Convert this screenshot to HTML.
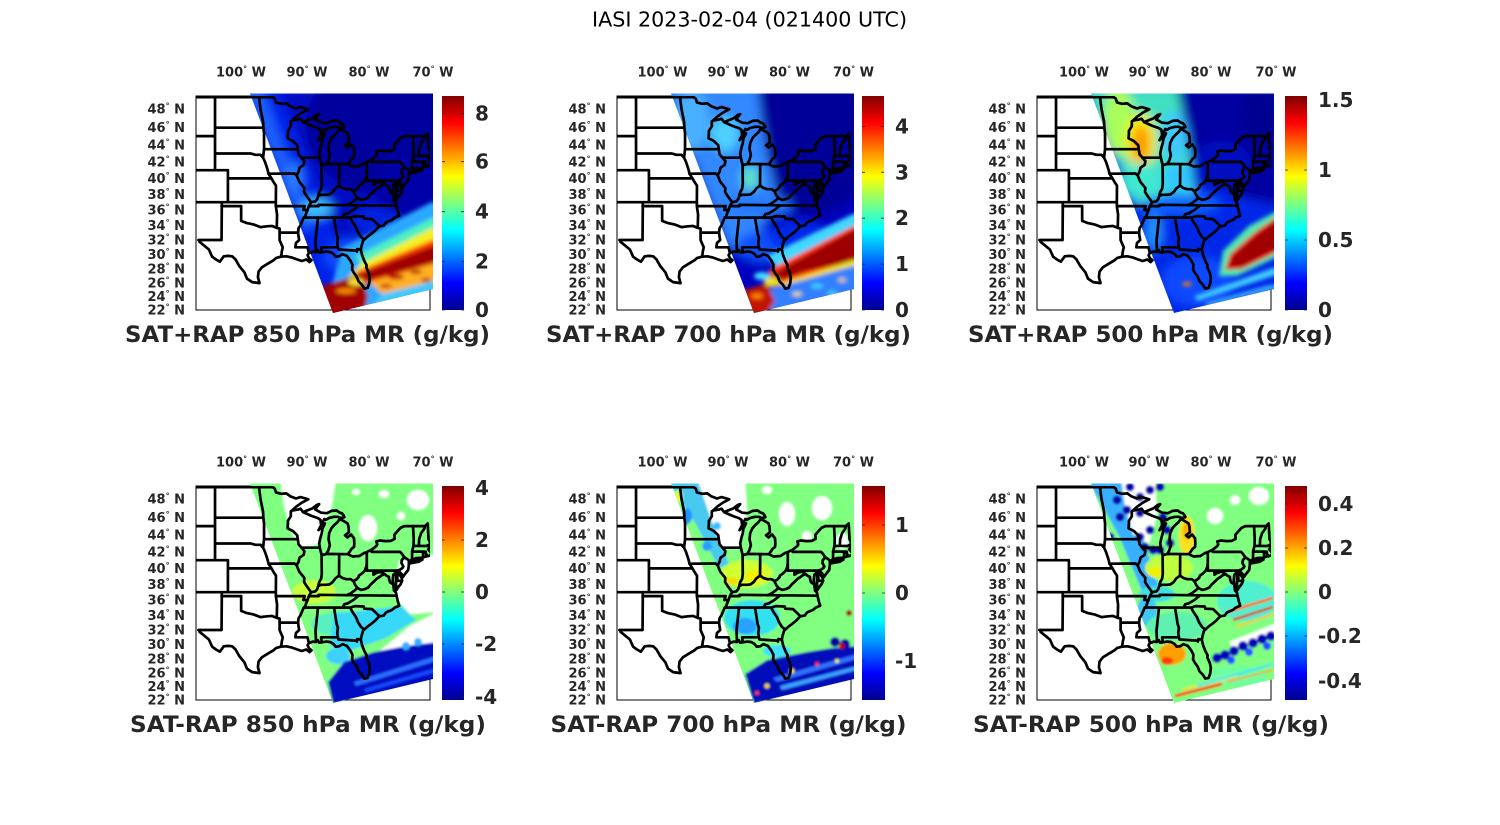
<!DOCTYPE html>
<html><head><meta charset="utf-8"><style>
html,body{margin:0;padding:0;background:#fff;width:1500px;height:825px;overflow:hidden}
svg{display:block}
.t{font-family:"DejaVu Sans","Liberation Sans",sans-serif}
.lab{font-family:"DejaVu Sans","Liberation Sans",sans-serif;font-weight:bold;font-size:13px;fill:#262626}
.cb{font-family:"DejaVu Sans","Liberation Sans",sans-serif;font-weight:bold;font-size:20px;fill:#262626}
.xl{font-family:"DejaVu Sans","Liberation Sans",sans-serif;font-weight:bold;font-size:22.5px;fill:#262626}
</style></head><body>
<svg width="1500" height="825" viewBox="0 0 1500 825" xmlns="http://www.w3.org/2000/svg">
<defs>
<linearGradient id="jet" x1="0" y1="1" x2="0" y2="0">
<stop offset="0" stop-color="#00008f"/><stop offset="0.125" stop-color="#0000ff"/><stop offset="0.375" stop-color="#00ffff"/><stop offset="0.625" stop-color="#ffff00"/><stop offset="0.875" stop-color="#ff0000"/><stop offset="1" stop-color="#800000"/>
</linearGradient>
<clipPath id="sw"><polygon points="54,-2.5 237,-2.5 237,193 137,217"/></clipPath>
<clipPath id="fr"><rect x="0" y="0" width="234" height="214"/></clipPath>
<filter id="bl1" x="-50%" y="-50%" width="200%" height="200%"><feGaussianBlur stdDeviation="1"/></filter>
<filter id="bl2" x="-50%" y="-50%" width="200%" height="200%"><feGaussianBlur stdDeviation="2"/></filter>
<filter id="bl5" x="-50%" y="-50%" width="200%" height="200%"><feGaussianBlur stdDeviation="5"/></filter>
<g id="bd" clip-path="url(#fr)"><path transform="scale(6.45,1)" vector-effect="non-scaling-stroke" fill="none" stroke="#000" stroke-width="2.7" stroke-linejoin="round" stroke-linecap="round" d="
M0,1.2 11.85,1.2 11.85,0
M11.85,1.2 12.2,2.5 12.4,6.4 13.2,7.8 14,7.4 14.6,10.2 15.5,12.5 16.2,11.1 17,12.5 17.4,13.3 16.4,16.7 15.5,20.8 14.9,24.5
M14.9,24.5 14.7,25.4 14.7,30.3 14.25,34.8 14.25,37.4 14.2,42.3 15,44.9 15.7,49.3 15.78,53.2
M14.9,24.5 15.8,23.6 16.2,22.7 16.6,26.1
M16.6,26.1 17.4,24 18.1,22.2 18.7,19 19.1,18.1 18.7,21.3 18.5,23.6 19.4,26.7 20.3,27.2 21,24.9 21.8,24.5 22.3,26.7 22.6,27.2 22.9,29.4 23,31.2 22.4,32.1 22,30.8 21.4,30.8 20.6,32.1 20.1,33.9 19.9,33 19.4,39.2
M16.6,26.1 17.9,29.9 18.9,32.1 19.3,33.9 19.4,39.2
M19.4,39.2 19,44.1 20,37.4 19.6,42.7 19.5,47.1 19.3,51.5 19.1,57.5 19.2,61.7 19.4,67.1 19.47,68.4 19.8,68.8 20.2,67.9
M20.2,67.9 20.5,64.6 20.75,59.2 20.55,53.2 20.65,47.1 21,42.3 21.4,39.2 22,35.7 22.25,33.2 22.7,34.3 23.5,37.4 23.65,41 23.7,46.3 23.1,49.3 23.5,51.5 24.05,48.5 24.5,52.3 24.55,57.5 24.5,60.9 24.1,63 23.9,65.1 23.55,68.2
M20.2,67.9 23.55,68.2
M23.55,68.2 24,69.7 24.3,70.5 25,70.1 25.3,70.1 26,67.2 26.48,66.1 26.9,64.7 27.24,63.7 27.95,60.1 28.1,58.3 27.95,55.4 28.5,54.5 29.4,55.1 30.2,54.9 30.8,52.8 30.75,48.9 31.2,45.4 31.7,41.9 32.3,40.1 35.5,40.1 35.92,37.4 36.02,48.9 36.05,53.2 36.3,56.6
M2.95,0 2.95,74.2
M0,40.1 2.95,40.1
M0,74.2 4.95,74.2 4.95,106.2
M4.95,82.4 11.7,82.4
M0,106.2 12.38,106.2
M4,106.2 4,110.1 3.96,144
M3.96,110.1 7,110.1 7,124.9 7.8,126.9 8.9,128.4 10,131.1 11,130.3 11.8,129.95 12.52,131.9
M0.38,144 3.96,144
M0.55,145.8 2,153.5 2.5,160.7 3.1,163.5 3.7,165.7 4.3,160.3 5,159.9 5.6,160.3 6.1,163.2 6.7,170 7.5,176.3 7.9,182.6 8.7,186.1 9.85,187.1 9.6,181.2 9.7,175.6 10.2,171.4 11.1,167.8 12,164.3 12.4,162.1 13.15,160.7 14,160.3 14.8,161.4 15.7,163.5 16.4,165 17.1,163.5 17.6,166.1 17.9,164.3 17.5,162.1 17.3,159.2 17.5,157.1 18.1,155.6 18.6,156 18.9,154.2 19.1,156.7 19.5,156.3 20.2,155.6 20.8,156 21.3,157.8 21.65,160.7 22.2,160.3 22.7,158.1 23.4,159.9 23.9,164.3 24.25,168.6 24.2,173.5 24.5,177 24.9,180.5 25.2,185.4 25.7,188.6 26.1,192.6 26.6,191.9 26.85,187.5 26.95,182 26.8,177 26.4,171.4 26.45,169.3 26.1,165 25.75,159.2 25.55,153.5 25.7,149.1 25.9,144.7 26.5,141.1 27.1,138.2 27.8,134.5 28.4,130.3 29.1,129.6 29.5,126.2 30.4,123.9 30.8,121.6 31.5,119.7 31.3,115.5 31.1,110.1 31,106.6 30.7,104.6 30.6,99.2 30.5,94.4 30.6,88.8 31,86.4 31.05,91.2 31,98.4 31.1,103.9 31.3,101.5 31.7,98.4 31.95,94.8 31.9,92 31.5,88 31.5,85.6 32,88.8 32.1,90.8 32.4,88 32.9,84 33,78.7 33,76.7 33.35,74.2 34.1,72.1 35.1,71.7 35.6,70.5 36,70.1 36.3,69.3 36.5,68 36.4,66.3 36,63.4 36.2,60.9 36.2,58.8 36.3,56.6
M33,77.5 34.5,75.8 35.1,73.6 34.3,74.2 33.3,75 33,75.8
M2.95,31.7 10.44,31.7
M10.44,31.7 10.4,25.8 10.2,19.4 10,13 9.77,1.2
M10.44,31.7 10.55,37.4 10.55,53.2 10.4,61.7
M2.95,57.5 8.5,57.5 9.2,58.8 10,58.8 10.4,61.7 10.7,65.9 11,71.7 11.15,75 11.23,77.7 11.7,82.4
M10.55,53.2 15.78,53.2
M11.23,77.7 15.27,77.5 15.6,79.3
M11.7,82.4 12.1,86.8 12.4,89.6 12.38,106.2 12.38,110.1 12.57,118.6 12.52,131.9 12.96,132.6 12.96,136.6 15.83,136.6
M12.96,136.6 12.96,144.1 13.2,147.7 13.45,151.3 13.3,155.6 13.25,158.5 13.15,160.7
M15.83,136.6 15.9,140.4 16,144 15.5,147 15.4,151.3 17.27,151.3 17.4,154.2 17.5,157.1
M15.83,136.6 15.9,132.2 16.2,129.2 16.45,125.4 16.7,121.6 16.9,120.5 17.1,117 17.3,114 17.5,110.1 17.7,107.8 17.85,106.2 17.5,103.1 17.15,100 16.75,96 16.8,92 16.4,88.8 16,85.6 15.6,79.3 15.9,75.8 16.05,71.7 16.7,68.8 16.8,65.1 16.36,61.7 15.9,58.3 15.78,53.2
M16.36,61.7 19.2,61.7
M12.38,110.1 16.85,110.1 16.63,114 17.3,114
M16.7,121.6 23.9,121.6
M18.8,121.6 18.9,122.4 18.53,144.7 18.6,155.6
M21.4,121.6 21.8,137.8 22,141.8 21.9,146.9 22,151.3
M19.4,151.3 22,151.3 22.1,153.5 24.8,154.6 24.95,155.6 25,153.1 25.55,153.5
M19.4,151.3 19.5,156.3
M23.9,121.6 24.2,125.4 24.8,131.1 25.1,136 25.6,141.1 26.1,143.6
M23.9,121.6 24.6,120.1 26,120.5 26.1,122.7 27.3,123.1 28.45,130.3
M22.7,121.6 23,118.2 23.5,117.4 24.4,114 25.3,109.3
M17.5,110.1 19,110.1 19,108.8 25.3,109.3 31.1,109.7
M23.3,109.3 24,107.3 24.7,103.9 25.03,102 24.7,99.2 24.4,95.2 24,93.2 23.3,93.2 22.7,92 22.18,89.6 21.6,92.4 21.2,96 20.7,98.4 20.2,98.8 19.4,98.8 18.95,100 18.8,103.1 18.5,105.4 17.85,106.2
M18.95,100 19.1,96 19.4,92.8 19.5,88 19.47,68.4
M22.18,89.6 22.2,68.4
M26.48,77.2 26.4,80.8 26.15,84.8 25.7,87.6 25.25,89.6 25.2,91.2 24.85,93.6 24.4,95.2
M26.48,66.1 26.48,84.6 31.2,84.6 31.22,94.8 31.95,94.8
M27.52,84.6 27.52,88.8 28,86.8 28.6,85.6 29.25,88 28.8,89.2 28.4,91.2 28,92.8 27.5,96 27.1,98.4 26.7,101.5 26.2,103.1 25.6,103.9 25.03,102
M29.25,88 29.5,89.6 29.9,90.8 29.95,93.6 30.1,96.4 30.7,98.8
M31.2,84.6 31.6,83.8 32,82 32.15,80.4 31.85,77.1 31.9,74.2 32.3,71.3
M27.24,63.7 27.24,65.9 31.65,65.9 31.9,67.6 32.3,71.3 33,74.2 33,76.7
M33.35,74.2 33.5,72.5 33.5,65.5 33.73,59.6 33.75,52.3 33.65,40.1
M33.5,65.6 35.2,65.6 35.2,71.4
M35.2,65.6 35.62,65.7 35.62,67.5 35.88,70.1
M33.73,59.8 35.7,60 36.2,58.6
M34.54,59.8 34.6,53.2 34.9,47.1 35.4,42.7 35.5,40.1
"/></g>
</defs>
<rect width="1500" height="825" fill="#fff"/>
<text class="t" x="749.5" y="26.7" text-anchor="middle" font-size="20" fill="#000" textLength="315" lengthAdjust="spacingAndGlyphs">IASI 2023-02-04 (021400 UTC)</text>

<!-- ===== PANEL 1 ===== -->
<g transform="translate(196,96)">
<rect x="0" y="0" width="234" height="214" fill="#fff" stroke="#000" stroke-width="1"/>
<g clip-path="url(#sw)">
<g filter="url(#bl5)">
<rect x="40" y="-10" width="210" height="240" fill="#0008c4"/>
<ellipse cx="190" cy="30" rx="80" ry="70" fill="#00009c"/>
<ellipse cx="215" cy="95" rx="35" ry="35" fill="#0000a8"/>
<polygon points="48,-8 82,-8 140,140 160,216 132,216" fill="#0024e8"/>
<polygon points="48,-8 66,-8 118,130 108,135" fill="#1c60ff"/>
<ellipse cx="120" cy="112" rx="16" ry="10" fill="#3cc0ff"/>
<ellipse cx="98" cy="82" rx="9" ry="16" fill="#2a7cff"/>
<ellipse cx="158" cy="160" rx="30" ry="18" fill="#0848ff"/>
<ellipse cx="180" cy="125" rx="25" ry="14" fill="#0020e0"/>
</g>
<g filter="url(#bl2)">
<polygon points="146,152 236,106 242,106 242,220 128,220" fill="#2aa8ff"/>
<polygon points="160,160 236,122 242,122 242,145 168,176" fill="#50f0c0"/>
<polygon points="165,168 236,132 242,132 242,152 168,180 150,184" fill="#f4f020"/>
<polygon points="160,176 236,144 242,144 242,170 172,188 152,192" fill="#ff4400"/>
<polygon points="158,180 236,150 242,150 242,166 174,184 156,190" fill="#a00000"/>
<polygon points="174,186 242,166 242,186 186,198" fill="#ffb020"/>
<ellipse cx="200" cy="181" rx="8" ry="2.5" fill="#b00000"/>
<ellipse cx="220" cy="176" rx="6" ry="2" fill="#b00000"/>
<ellipse cx="190" cy="190" rx="6" ry="2" fill="#c02000"/>
<ellipse cx="230" cy="184" rx="5" ry="2" fill="#b00000"/>
<polygon points="186,198 242,184 242,200 170,216" fill="#40c8ff"/>
<polygon points="126,190 165,178 172,200 168,220 128,220" fill="#a00000"/>
<ellipse cx="150" cy="195" rx="10" ry="2.5" fill="#ff9000"/>
<ellipse cx="160" cy="186" rx="8" ry="4" fill="#f0e030"/>
</g>
</g>
<use href="#bd"/>
<g class="lab" text-anchor="end">
<text x="-11" y="17.7">48<tspan dy="-5" font-size="8">°</tspan><tspan dy="5"> N</tspan></text>
<text x="-11" y="35.9">46<tspan dy="-5" font-size="8">°</tspan><tspan dy="5"> N</tspan></text>
<text x="-11" y="53.6">44<tspan dy="-5" font-size="8">°</tspan><tspan dy="5"> N</tspan></text>
<text x="-11" y="70.6">42<tspan dy="-5" font-size="8">°</tspan><tspan dy="5"> N</tspan></text>
<text x="-11" y="87.1">40<tspan dy="-5" font-size="8">°</tspan><tspan dy="5"> N</tspan></text>
<text x="-11" y="103.1">38<tspan dy="-5" font-size="8">°</tspan><tspan dy="5"> N</tspan></text>
<text x="-11" y="118.7">36<tspan dy="-5" font-size="8">°</tspan><tspan dy="5"> N</tspan></text>
<text x="-11" y="133.9">34<tspan dy="-5" font-size="8">°</tspan><tspan dy="5"> N</tspan></text>
<text x="-11" y="148.7">32<tspan dy="-5" font-size="8">°</tspan><tspan dy="5"> N</tspan></text>
<text x="-11" y="163.2">30<tspan dy="-5" font-size="8">°</tspan><tspan dy="5"> N</tspan></text>
<text x="-11" y="177.5">28<tspan dy="-5" font-size="8">°</tspan><tspan dy="5"> N</tspan></text>
<text x="-11" y="191.5">26<tspan dy="-5" font-size="8">°</tspan><tspan dy="5"> N</tspan></text>
<text x="-11" y="205.2">24<tspan dy="-5" font-size="8">°</tspan><tspan dy="5"> N</tspan></text>
<text x="-11" y="218.7">22<tspan dy="-5" font-size="8">°</tspan><tspan dy="5"> N</tspan></text>
</g>
<g class="lab" text-anchor="middle">
<text x="45" y="-19.3">100<tspan dy="-5" font-size="8">°</tspan><tspan dy="5"> W</tspan></text>
<text x="111" y="-19.3">90<tspan dy="-5" font-size="8">°</tspan><tspan dy="5"> W</tspan></text>
<text x="173" y="-19.3">80<tspan dy="-5" font-size="8">°</tspan><tspan dy="5"> W</tspan></text>
<text x="237" y="-19.3">70<tspan dy="-5" font-size="8">°</tspan><tspan dy="5"> W</tspan></text>
</g>
<rect x="246" y="0" width="22" height="214" fill="url(#jet)"/>
<g stroke="#262626" stroke-width="0.8"><path d="M246,214h3M265,214h3M246,165.7h3M265,165.7h3M246,115.7h3M265,115.7h3M246,65.7h3M265,65.7h3M246,17.3h3M265,17.3h3"/></g>
<g class="cb"><text x="279" y="221">0</text><text x="279" y="172.7">2</text><text x="279" y="122.7">4</text><text x="279" y="72.7">6</text><text x="279" y="24.3">8</text></g>
<text class="xl" x="111.5" y="246" text-anchor="middle" textLength="365" lengthAdjust="spacingAndGlyphs">SAT+RAP 850 hPa MR (g/kg)</text>
</g>

<!-- ===== PANEL 2 ===== -->
<g transform="translate(617,96)">
<rect x="0" y="0" width="234" height="214" fill="#fff" stroke="#000" stroke-width="1"/>
<g clip-path="url(#sw)">
<g filter="url(#bl5)">
<rect x="40" y="-10" width="210" height="240" fill="#0000c0"/>
<ellipse cx="192" cy="45" rx="70" ry="75" fill="#000098"/>
<polygon points="48,-8 140,-8 150,60 160,100 130,160 112,150" fill="#3088ff"/>
<ellipse cx="75" cy="25" rx="18" ry="30" fill="#48b0ff"/>
<ellipse cx="108" cy="38" rx="14" ry="18" fill="#50d0ff"/>
<ellipse cx="133" cy="82" rx="8" ry="12" fill="#60e8c0"/>
<ellipse cx="140" cy="110" rx="35" ry="10" fill="#2878ff"/>
<ellipse cx="145" cy="150" rx="25" ry="15" fill="#1050ff"/>
<ellipse cx="182" cy="140" rx="30" ry="15" fill="#0028e8"/>
</g>
<g filter="url(#bl2)">
<polygon points="150,160 236,118 242,118 242,140 160,172" fill="#40d8ff"/>
<polygon points="152,174 236,130 242,130 242,168 185,180 156,190" fill="#ff3000"/>
<polygon points="156,178 236,134 242,134 242,164 185,176 160,186" fill="#9c0000"/>
<polygon points="160,188 236,164 242,164 242,172 168,192" fill="#f0e020"/>
<polygon points="150,194 236,170 242,170 242,218 140,218" fill="#3080ff"/>
<ellipse cx="180" cy="198" rx="5" ry="2" fill="#f0e020"/>
<ellipse cx="200" cy="190" rx="6" ry="2" fill="#40e0ff"/>
<ellipse cx="215" cy="197" rx="5" ry="2" fill="#40e0ff"/>
<ellipse cx="225" cy="184" rx="4" ry="2" fill="#f0d000"/>
<polygon points="126,194 150,188 158,205 150,218 128,218" fill="#c01800"/>
<ellipse cx="140" cy="200" rx="6" ry="3" fill="#ff8000"/>
<ellipse cx="155" cy="186" rx="8" ry="5" fill="#f0e020"/>
<ellipse cx="145" cy="180" rx="8" ry="4" fill="#40e0ff"/>
</g>
</g>
<use href="#bd"/>
<g class="lab" text-anchor="end">
<text x="-11" y="17.7">48<tspan dy="-5" font-size="8">°</tspan><tspan dy="5"> N</tspan></text>
<text x="-11" y="35.9">46<tspan dy="-5" font-size="8">°</tspan><tspan dy="5"> N</tspan></text>
<text x="-11" y="53.6">44<tspan dy="-5" font-size="8">°</tspan><tspan dy="5"> N</tspan></text>
<text x="-11" y="70.6">42<tspan dy="-5" font-size="8">°</tspan><tspan dy="5"> N</tspan></text>
<text x="-11" y="87.1">40<tspan dy="-5" font-size="8">°</tspan><tspan dy="5"> N</tspan></text>
<text x="-11" y="103.1">38<tspan dy="-5" font-size="8">°</tspan><tspan dy="5"> N</tspan></text>
<text x="-11" y="118.7">36<tspan dy="-5" font-size="8">°</tspan><tspan dy="5"> N</tspan></text>
<text x="-11" y="133.9">34<tspan dy="-5" font-size="8">°</tspan><tspan dy="5"> N</tspan></text>
<text x="-11" y="148.7">32<tspan dy="-5" font-size="8">°</tspan><tspan dy="5"> N</tspan></text>
<text x="-11" y="163.2">30<tspan dy="-5" font-size="8">°</tspan><tspan dy="5"> N</tspan></text>
<text x="-11" y="177.5">28<tspan dy="-5" font-size="8">°</tspan><tspan dy="5"> N</tspan></text>
<text x="-11" y="191.5">26<tspan dy="-5" font-size="8">°</tspan><tspan dy="5"> N</tspan></text>
<text x="-11" y="205.2">24<tspan dy="-5" font-size="8">°</tspan><tspan dy="5"> N</tspan></text>
<text x="-11" y="218.7">22<tspan dy="-5" font-size="8">°</tspan><tspan dy="5"> N</tspan></text>
</g>
<g class="lab" text-anchor="middle">
<text x="45.5" y="-19.3">100<tspan dy="-5" font-size="8">°</tspan><tspan dy="5"> W</tspan></text>
<text x="111" y="-19.3">90<tspan dy="-5" font-size="8">°</tspan><tspan dy="5"> W</tspan></text>
<text x="172.5" y="-19.3">80<tspan dy="-5" font-size="8">°</tspan><tspan dy="5"> W</tspan></text>
<text x="236.5" y="-19.3">70<tspan dy="-5" font-size="8">°</tspan><tspan dy="5"> W</tspan></text>
</g>
<rect x="245" y="0" width="22" height="214" fill="url(#jet)"/>
<g stroke="#262626" stroke-width="0.8"><path d="M245,214h3M264,214h3M245,168.1h3M264,168.1h3M245,122.2h3M264,122.2h3M245,76.3h3M264,76.3h3M245,30.4h3M264,30.4h3"/></g>
<g class="cb"><text x="278" y="221">0</text><text x="278" y="175.1">1</text><text x="278" y="129.2">2</text><text x="278" y="83.3">3</text><text x="278" y="37.4">4</text></g>
<text class="xl" x="111.5" y="246" text-anchor="middle" textLength="365" lengthAdjust="spacingAndGlyphs">SAT+RAP 700 hPa MR (g/kg)</text>
</g>

<!-- ===== PANEL 3 ===== -->
<g transform="translate(1037,96)">
<rect x="0" y="0" width="234" height="214" fill="#fff" stroke="#000" stroke-width="1"/>
<g clip-path="url(#sw)">
<g filter="url(#bl5)">
<rect x="40" y="-10" width="210" height="240" fill="#0028e8"/>
<polygon points="140,-8 242,-8 242,110 200,100 160,80 150,40" fill="#0000a0"/>
<ellipse cx="225" cy="20" rx="20" ry="30" fill="#000090"/>
<polygon points="48,-8 140,-8 150,40 158,100 125,112 100,108" fill="#40e0c0"/>
<ellipse cx="82" cy="25" rx="16" ry="35" fill="#a8ff58"/>
<ellipse cx="104" cy="45" rx="16" ry="28" fill="#f0f010"/>
<ellipse cx="104" cy="48" rx="9" ry="19" fill="#ff9800"/>
<ellipse cx="137" cy="40" rx="13" ry="25" fill="#40c8ff"/>
<ellipse cx="105" cy="85" rx="22" ry="18" fill="#40e8d0"/>
<ellipse cx="140" cy="82" rx="15" ry="15" fill="#30c8ff"/>
<ellipse cx="145" cy="108" rx="38" ry="10" fill="#1060ff"/>
<ellipse cx="117" cy="135" rx="8" ry="20" fill="#2090ff"/>
<ellipse cx="160" cy="185" rx="35" ry="25" fill="#0848ff"/>
<ellipse cx="185" cy="70" rx="30" ry="25" fill="#0010c0"/>
</g>
<g filter="url(#bl2)">
<polygon points="238,116 242,116 242,160 200,180 182,180 186,155 212,130" fill="#50e8b0"/>
<polygon points="238,122 242,122 242,155 205,173 188,174 193,158 218,136" fill="#e00000"/>
<polygon points="238,126 242,126 242,151 205,170 192,170 197,160 220,139" fill="#a00000"/>
<polygon points="236,172 242,172 242,178 160,205 158,200" fill="#40d0ff"/>
<polygon points="230,190 242,188 242,192 170,210 168,207" fill="#40c0ff"/>
<ellipse cx="150" cy="188" rx="5" ry="2" fill="#ff8000"/>
</g>
</g>
<use href="#bd"/>
<g class="lab" text-anchor="end">
<text x="-11" y="17.7">48<tspan dy="-5" font-size="8">°</tspan><tspan dy="5"> N</tspan></text>
<text x="-11" y="35.9">46<tspan dy="-5" font-size="8">°</tspan><tspan dy="5"> N</tspan></text>
<text x="-11" y="53.6">44<tspan dy="-5" font-size="8">°</tspan><tspan dy="5"> N</tspan></text>
<text x="-11" y="70.6">42<tspan dy="-5" font-size="8">°</tspan><tspan dy="5"> N</tspan></text>
<text x="-11" y="87.1">40<tspan dy="-5" font-size="8">°</tspan><tspan dy="5"> N</tspan></text>
<text x="-11" y="103.1">38<tspan dy="-5" font-size="8">°</tspan><tspan dy="5"> N</tspan></text>
<text x="-11" y="118.7">36<tspan dy="-5" font-size="8">°</tspan><tspan dy="5"> N</tspan></text>
<text x="-11" y="133.9">34<tspan dy="-5" font-size="8">°</tspan><tspan dy="5"> N</tspan></text>
<text x="-11" y="148.7">32<tspan dy="-5" font-size="8">°</tspan><tspan dy="5"> N</tspan></text>
<text x="-11" y="163.2">30<tspan dy="-5" font-size="8">°</tspan><tspan dy="5"> N</tspan></text>
<text x="-11" y="177.5">28<tspan dy="-5" font-size="8">°</tspan><tspan dy="5"> N</tspan></text>
<text x="-11" y="191.5">26<tspan dy="-5" font-size="8">°</tspan><tspan dy="5"> N</tspan></text>
<text x="-11" y="205.2">24<tspan dy="-5" font-size="8">°</tspan><tspan dy="5"> N</tspan></text>
<text x="-11" y="218.7">22<tspan dy="-5" font-size="8">°</tspan><tspan dy="5"> N</tspan></text>
</g>
<g class="lab" text-anchor="middle">
<text x="47" y="-19.3">100<tspan dy="-5" font-size="8">°</tspan><tspan dy="5"> W</tspan></text>
<text x="112" y="-19.3">90<tspan dy="-5" font-size="8">°</tspan><tspan dy="5"> W</tspan></text>
<text x="174" y="-19.3">80<tspan dy="-5" font-size="8">°</tspan><tspan dy="5"> W</tspan></text>
<text x="239" y="-19.3">70<tspan dy="-5" font-size="8">°</tspan><tspan dy="5"> W</tspan></text>
</g>
<rect x="248" y="0" width="22" height="214" fill="url(#jet)"/>
<g stroke="#262626" stroke-width="0.8"><path d="M248,214h3M267,214h3M248,144h3M267,144h3M248,74h3M267,74h3M248,4h3M267,4h3"/></g>
<g class="cb"><text x="281" y="221">0</text><text x="281" y="151">0.5</text><text x="281" y="81">1</text><text x="281" y="11">1.5</text></g>
<text class="xl" x="113.5" y="246" text-anchor="middle" textLength="365" lengthAdjust="spacingAndGlyphs">SAT+RAP 500 hPa MR (g/kg)</text>
</g>

<!-- ===== PANEL 4 ===== -->
<g transform="translate(196,486)">
<rect x="0" y="0" width="234" height="214" fill="#fff" stroke="#000" stroke-width="1"/>
<g clip-path="url(#sw)">
<g filter="url(#bl1)">
<rect x="40" y="-10" width="210" height="240" fill="#80ff80"/>
<polygon points="84,-8 140,-8 136,20 128,40 122,58 105,62 95,45 88,20" fill="#fff"/>
<ellipse cx="172" cy="42" rx="9" ry="13" fill="#fff"/>
<ellipse cx="222" cy="14" rx="11" ry="10" fill="#fff"/>
<ellipse cx="188" cy="8" rx="5" ry="4" fill="#fff"/>
<ellipse cx="160" cy="6" rx="4" ry="3" fill="#fff"/>
<ellipse cx="205" cy="30" rx="4" ry="4" fill="#fff"/>
<polygon points="203,75 242,68 242,126 214,128 198,110" fill="#fff"/>
<polygon points="242,126 242,158 205,162 180,168 214,140" fill="#fff"/>
<ellipse cx="118" cy="106" rx="22" ry="12" fill="#c8ff40"/>
<ellipse cx="150" cy="138" rx="35" ry="13" fill="#58f0c0"/>
<polygon points="138,128 205,120 220,134 190,152 150,166 134,160" fill="#38d8f8"/>
<ellipse cx="142" cy="170" rx="12" ry="8" fill="#40d0ff"/>
<polygon points="242,156 242,196 137,218 132,196 148,176 178,166 210,160" fill="#0010c0"/>
<polygon points="240,170 240,175 160,200 158,196" fill="#2a6cff"/>
<polygon points="240,182 240,186 170,206 168,203" fill="#1848ff"/>
<circle cx="210" cy="160" r="4" fill="#30b0ff"/>
<circle cx="222" cy="156" r="4" fill="#30b0ff"/>
</g>
</g>
<use href="#bd"/>
<g class="lab" text-anchor="end">
<text x="-11" y="17.7">48<tspan dy="-5" font-size="8">°</tspan><tspan dy="5"> N</tspan></text>
<text x="-11" y="35.9">46<tspan dy="-5" font-size="8">°</tspan><tspan dy="5"> N</tspan></text>
<text x="-11" y="53.6">44<tspan dy="-5" font-size="8">°</tspan><tspan dy="5"> N</tspan></text>
<text x="-11" y="70.6">42<tspan dy="-5" font-size="8">°</tspan><tspan dy="5"> N</tspan></text>
<text x="-11" y="87.1">40<tspan dy="-5" font-size="8">°</tspan><tspan dy="5"> N</tspan></text>
<text x="-11" y="103.1">38<tspan dy="-5" font-size="8">°</tspan><tspan dy="5"> N</tspan></text>
<text x="-11" y="118.7">36<tspan dy="-5" font-size="8">°</tspan><tspan dy="5"> N</tspan></text>
<text x="-11" y="133.9">34<tspan dy="-5" font-size="8">°</tspan><tspan dy="5"> N</tspan></text>
<text x="-11" y="148.7">32<tspan dy="-5" font-size="8">°</tspan><tspan dy="5"> N</tspan></text>
<text x="-11" y="163.2">30<tspan dy="-5" font-size="8">°</tspan><tspan dy="5"> N</tspan></text>
<text x="-11" y="177.5">28<tspan dy="-5" font-size="8">°</tspan><tspan dy="5"> N</tspan></text>
<text x="-11" y="191.5">26<tspan dy="-5" font-size="8">°</tspan><tspan dy="5"> N</tspan></text>
<text x="-11" y="205.2">24<tspan dy="-5" font-size="8">°</tspan><tspan dy="5"> N</tspan></text>
<text x="-11" y="218.7">22<tspan dy="-5" font-size="8">°</tspan><tspan dy="5"> N</tspan></text>
</g>
<g class="lab" text-anchor="middle">
<text x="45" y="-19.3">100<tspan dy="-5" font-size="8">°</tspan><tspan dy="5"> W</tspan></text>
<text x="111" y="-19.3">90<tspan dy="-5" font-size="8">°</tspan><tspan dy="5"> W</tspan></text>
<text x="173" y="-19.3">80<tspan dy="-5" font-size="8">°</tspan><tspan dy="5"> W</tspan></text>
<text x="237" y="-19.3">70<tspan dy="-5" font-size="8">°</tspan><tspan dy="5"> W</tspan></text>
</g>
<rect x="246" y="0" width="22" height="214" fill="url(#jet)"/>
<g stroke="#262626" stroke-width="0.8"><path d="M246,2h3M265,2h3M246,54h3M265,54h3M246,106h3M265,106h3M246,158h3M265,158h3M246,211h3M265,211h3"/></g>
<g class="cb"><text x="279" y="9">4</text><text x="279" y="61">2</text><text x="279" y="113">0</text><text x="279" y="165">-2</text><text x="279" y="218">-4</text></g>
<text class="xl" x="112" y="246" text-anchor="middle" textLength="356" lengthAdjust="spacingAndGlyphs">SAT-RAP 850 hPa MR (g/kg)</text>
</g>

<!-- ===== PANEL 5 ===== -->
<g transform="translate(617,486)">
<rect x="0" y="0" width="234" height="214" fill="#fff" stroke="#000" stroke-width="1"/>
<g clip-path="url(#sw)">
<g filter="url(#bl1)">
<rect x="40" y="-10" width="210" height="240" fill="#80ff80"/>
<polygon points="78,-8 128,-8 130,25 122,62 100,62 88,30" fill="#fff"/>
<ellipse cx="170" cy="28" rx="8" ry="12" fill="#fff"/>
<ellipse cx="205" cy="22" rx="10" ry="12" fill="#fff"/>
<ellipse cx="225" cy="55" rx="6" ry="8" fill="#fff"/>
<ellipse cx="150" cy="4" rx="5" ry="4" fill="#fff"/>
<ellipse cx="190" cy="50" rx="5" ry="5" fill="#fff"/>
<polygon points="50,-8 80,-8 98,45 112,78 102,82 80,40" fill="#48c8f0"/>
<ellipse cx="62" cy="10" rx="4" ry="6" fill="#e0ff30"/>
<ellipse cx="70" cy="30" rx="5" ry="8" fill="#2090ff"/>
<ellipse cx="90" cy="60" rx="5" ry="5" fill="#20a0ff"/>
<ellipse cx="100" cy="40" rx="4" ry="4" fill="#30c0ff"/>
<ellipse cx="130" cy="88" rx="26" ry="14" fill="#d0ff30"/>
<ellipse cx="138" cy="90" rx="10" ry="6" fill="#f4f000"/>
<ellipse cx="115" cy="95" rx="6" ry="4" fill="#f0e000"/>
<ellipse cx="135" cy="132" rx="28" ry="18" fill="#30e0f0"/>
<ellipse cx="128" cy="140" rx="12" ry="8" fill="#2aa0ff"/>
<ellipse cx="160" cy="165" rx="14" ry="6" fill="#40e0ff"/>
<polygon points="242,160 242,196 137,218 128,188 150,174 190,166 215,162" fill="#0010b8"/>
<polygon points="240,168 240,173 160,196 156,192" fill="#3070ff"/>
<polygon points="240,180 240,184 165,204 163,200" fill="#3aa0ff"/>
<circle cx="175" cy="185" r="2.5" fill="#f0e000"/>
<circle cx="200" cy="178" r="2" fill="#ff3000"/>
<circle cx="150" cy="200" r="2.5" fill="#f0d000"/>
<circle cx="140" cy="207" r="2" fill="#ff4000"/>
<circle cx="220" cy="175" r="2" fill="#f0f000"/>
<circle cx="218" cy="156" r="5" fill="#0000a0"/>
<circle cx="228" cy="158" r="5" fill="#0000a0"/>
<circle cx="225" cy="160" r="3" fill="#c00000"/>
<circle cx="232" cy="127" r="3" fill="#a00000"/>
</g>
</g>
<use href="#bd"/>
<g class="lab" text-anchor="end">
<text x="-11" y="17.7">48<tspan dy="-5" font-size="8">°</tspan><tspan dy="5"> N</tspan></text>
<text x="-11" y="35.9">46<tspan dy="-5" font-size="8">°</tspan><tspan dy="5"> N</tspan></text>
<text x="-11" y="53.6">44<tspan dy="-5" font-size="8">°</tspan><tspan dy="5"> N</tspan></text>
<text x="-11" y="70.6">42<tspan dy="-5" font-size="8">°</tspan><tspan dy="5"> N</tspan></text>
<text x="-11" y="87.1">40<tspan dy="-5" font-size="8">°</tspan><tspan dy="5"> N</tspan></text>
<text x="-11" y="103.1">38<tspan dy="-5" font-size="8">°</tspan><tspan dy="5"> N</tspan></text>
<text x="-11" y="118.7">36<tspan dy="-5" font-size="8">°</tspan><tspan dy="5"> N</tspan></text>
<text x="-11" y="133.9">34<tspan dy="-5" font-size="8">°</tspan><tspan dy="5"> N</tspan></text>
<text x="-11" y="148.7">32<tspan dy="-5" font-size="8">°</tspan><tspan dy="5"> N</tspan></text>
<text x="-11" y="163.2">30<tspan dy="-5" font-size="8">°</tspan><tspan dy="5"> N</tspan></text>
<text x="-11" y="177.5">28<tspan dy="-5" font-size="8">°</tspan><tspan dy="5"> N</tspan></text>
<text x="-11" y="191.5">26<tspan dy="-5" font-size="8">°</tspan><tspan dy="5"> N</tspan></text>
<text x="-11" y="205.2">24<tspan dy="-5" font-size="8">°</tspan><tspan dy="5"> N</tspan></text>
<text x="-11" y="218.7">22<tspan dy="-5" font-size="8">°</tspan><tspan dy="5"> N</tspan></text>
</g>
<g class="lab" text-anchor="middle">
<text x="45.5" y="-19.3">100<tspan dy="-5" font-size="8">°</tspan><tspan dy="5"> W</tspan></text>
<text x="111" y="-19.3">90<tspan dy="-5" font-size="8">°</tspan><tspan dy="5"> W</tspan></text>
<text x="172.5" y="-19.3">80<tspan dy="-5" font-size="8">°</tspan><tspan dy="5"> W</tspan></text>
<text x="236.5" y="-19.3">70<tspan dy="-5" font-size="8">°</tspan><tspan dy="5"> W</tspan></text>
</g>
<rect x="245" y="0" width="23" height="214" fill="url(#jet)"/>
<g stroke="#262626" stroke-width="0.8"><path d="M245,39h3M265,39h3M245,107h3M265,107h3M245,175h3M265,175h3"/></g>
<g class="cb"><text x="278" y="46">1</text><text x="278" y="114">0</text><text x="278" y="182">-1</text></g>
<text class="xl" x="111.5" y="246" text-anchor="middle" textLength="356" lengthAdjust="spacingAndGlyphs">SAT-RAP 700 hPa MR (g/kg)</text>
</g>

<!-- ===== PANEL 6 ===== -->
<g transform="translate(1037,486)">
<rect x="0" y="0" width="234" height="214" fill="#fff" stroke="#000" stroke-width="1"/>
<g clip-path="url(#sw)">
<g filter="url(#bl1)">
<rect x="40" y="-10" width="210" height="240" fill="#80ff80"/>
<polygon points="50,-8 84,-8 105,50 125,110 112,122 82,50" fill="#38b0ff"/>
<polygon points="84,-8 118,-8 120,30 112,58 96,48 88,20" fill="#fff"/>
<ellipse cx="178" cy="30" rx="8" ry="8" fill="#fff"/>
<ellipse cx="222" cy="10" rx="10" ry="9" fill="#fff"/>
<ellipse cx="198" cy="14" rx="5" ry="5" fill="#fff"/>
<g fill="#0000b0">
<circle cx="93" cy="1" r="4.5"/><circle cx="103" cy="11" r="4.5"/><circle cx="113" cy="4" r="4.5"/><circle cx="123" cy="1" r="4.5"/>
<circle cx="80" cy="14" r="4.5"/><circle cx="90" cy="24" r="4.5"/><circle cx="103" cy="27" r="4.5"/><circle cx="113" cy="44" r="4.5"/>
<circle cx="103" cy="51" r="4.5"/><circle cx="108" cy="61" r="4.5"/><circle cx="116" cy="64" r="4.5"/><circle cx="126" cy="31" r="4.5"/>
<circle cx="130" cy="44" r="4.5"/><circle cx="123" cy="64" r="4.5"/><circle cx="133" cy="57" r="4.5"/><circle cx="73" cy="51" r="4.5"/><circle cx="83" cy="31" r="4.5"/>
</g>
<ellipse cx="150" cy="50" rx="8" ry="20" fill="#f8e020"/>
<ellipse cx="150" cy="45" rx="4" ry="9" fill="#ffb000"/>
<ellipse cx="132" cy="82" rx="24" ry="13" fill="#c0ff40"/>
<ellipse cx="118" cy="86" rx="8" ry="5" fill="#f0f000"/>
<ellipse cx="120" cy="108" rx="18" ry="8" fill="#40e0e0"/>
<ellipse cx="110" cy="125" rx="10" ry="15" fill="#40c8f0"/>
<ellipse cx="140" cy="140" rx="30" ry="14" fill="#60f0b0"/>
<ellipse cx="210" cy="115" rx="30" ry="20" fill="#50f0d0"/>
<line x1="236" y1="112" x2="190" y2="126" stroke="#ff6000" stroke-width="3"/>
<line x1="236" y1="121" x2="196" y2="134" stroke="#e01000" stroke-width="2.5"/>
<line x1="236" y1="128" x2="200" y2="141" stroke="#ffc000" stroke-width="2"/>
<polygon points="242,136 242,148 196,162 192,156" fill="#fff"/>
<g fill="#0000b8">
<circle cx="234" cy="150" r="5"/><circle cx="225" cy="153" r="5"/><circle cx="216" cy="157" r="5"/><circle cx="206" cy="160" r="5"/><circle cx="197" cy="165" r="5"/><circle cx="188" cy="169" r="5"/><circle cx="180" cy="172" r="5"/>
</g>
<g fill="#2050ff"><circle cx="230" cy="160" r="4"/><circle cx="212" cy="166" r="4"/><circle cx="194" cy="174" r="4"/></g>
<ellipse cx="200" cy="190" rx="30" ry="10" fill="#70ffa0"/>
<ellipse cx="135" cy="168" rx="14" ry="11" fill="#ffa000"/>
<ellipse cx="130" cy="175" rx="6" ry="4" fill="#ff4000"/>
<line x1="138" y1="210" x2="185" y2="198" stroke="#ff3000" stroke-width="3"/>
<line x1="145" y1="204" x2="200" y2="190" stroke="#f0e020" stroke-width="2.5"/>
<line x1="160" y1="200" x2="236" y2="178" stroke="#40e0ff" stroke-width="2"/>
<line x1="190" y1="196" x2="236" y2="184" stroke="#ff8000" stroke-width="1.5"/>
</g>
</g>
<use href="#bd"/>
<g class="lab" text-anchor="end">
<text x="-11" y="17.7">48<tspan dy="-5" font-size="8">°</tspan><tspan dy="5"> N</tspan></text>
<text x="-11" y="35.9">46<tspan dy="-5" font-size="8">°</tspan><tspan dy="5"> N</tspan></text>
<text x="-11" y="53.6">44<tspan dy="-5" font-size="8">°</tspan><tspan dy="5"> N</tspan></text>
<text x="-11" y="70.6">42<tspan dy="-5" font-size="8">°</tspan><tspan dy="5"> N</tspan></text>
<text x="-11" y="87.1">40<tspan dy="-5" font-size="8">°</tspan><tspan dy="5"> N</tspan></text>
<text x="-11" y="103.1">38<tspan dy="-5" font-size="8">°</tspan><tspan dy="5"> N</tspan></text>
<text x="-11" y="118.7">36<tspan dy="-5" font-size="8">°</tspan><tspan dy="5"> N</tspan></text>
<text x="-11" y="133.9">34<tspan dy="-5" font-size="8">°</tspan><tspan dy="5"> N</tspan></text>
<text x="-11" y="148.7">32<tspan dy="-5" font-size="8">°</tspan><tspan dy="5"> N</tspan></text>
<text x="-11" y="163.2">30<tspan dy="-5" font-size="8">°</tspan><tspan dy="5"> N</tspan></text>
<text x="-11" y="177.5">28<tspan dy="-5" font-size="8">°</tspan><tspan dy="5"> N</tspan></text>
<text x="-11" y="191.5">26<tspan dy="-5" font-size="8">°</tspan><tspan dy="5"> N</tspan></text>
<text x="-11" y="205.2">24<tspan dy="-5" font-size="8">°</tspan><tspan dy="5"> N</tspan></text>
<text x="-11" y="218.7">22<tspan dy="-5" font-size="8">°</tspan><tspan dy="5"> N</tspan></text>
</g>
<g class="lab" text-anchor="middle">
<text x="47" y="-19.3">100<tspan dy="-5" font-size="8">°</tspan><tspan dy="5"> W</tspan></text>
<text x="112" y="-19.3">90<tspan dy="-5" font-size="8">°</tspan><tspan dy="5"> W</tspan></text>
<text x="174" y="-19.3">80<tspan dy="-5" font-size="8">°</tspan><tspan dy="5"> W</tspan></text>
<text x="239" y="-19.3">70<tspan dy="-5" font-size="8">°</tspan><tspan dy="5"> W</tspan></text>
</g>
<rect x="248" y="0" width="22" height="214" fill="url(#jet)"/>
<g stroke="#262626" stroke-width="0.8"><path d="M248,18h3M267,18h3M248,62h3M267,62h3M248,106h3M267,106h3M248,150h3M267,150h3M248,195h3M267,195h3"/></g>
<g class="cb"><text x="281" y="25">0.4</text><text x="281" y="69">0.2</text><text x="281" y="113">0</text><text x="281" y="157">-0.2</text><text x="281" y="202">-0.4</text></g>
<text class="xl" x="114" y="246" text-anchor="middle" textLength="356" lengthAdjust="spacingAndGlyphs">SAT-RAP 500 hPa MR (g/kg)</text>
</g>
</svg>
</body></html>
